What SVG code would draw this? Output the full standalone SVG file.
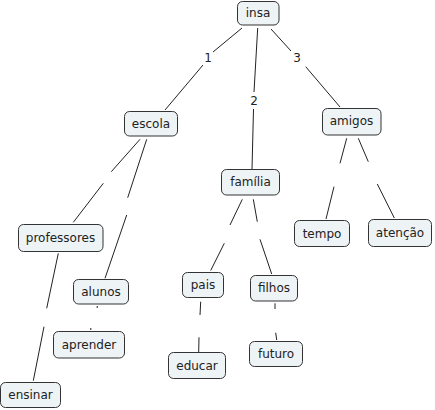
<svg xmlns="http://www.w3.org/2000/svg" width="435" height="410" viewBox="0 0 435 410">
<style>
.n rect{fill:#eef3f5;stroke:#333;stroke-width:1}
text{font-family:"DejaVu Sans",Verdana,sans-serif;font-size:12px;fill:#222;text-anchor:middle;dominant-baseline:central}
#connectors line{stroke:#222;stroke-width:1}
</style>
<rect width="435" height="410" fill="#fff"/>
<g id="connectors">
<line x1="242" y1="28" x2="213" y2="52"/><line x1="203" y1="65" x2="165" y2="110"/>
<text x="208" y="58">1</text>
<line x1="257.7" y1="28" x2="254" y2="92"/><line x1="253.5" y1="109" x2="252" y2="169"/>
<text x="254" y="101">2</text>
<line x1="271" y1="29" x2="291" y2="51"/><line x1="305.7" y1="66.7" x2="340" y2="107"/>
<text x="297" y="58">3</text>
<line x1="140" y1="139.3" x2="111.3" y2="171.7"/><line x1="103.3" y1="183.3" x2="73.3" y2="222.3"/>
<line x1="146.7" y1="139.3" x2="127.7" y2="197.7"/><line x1="126.7" y1="215" x2="105" y2="278.3"/>
<line x1="58.3" y1="253.3" x2="46.7" y2="308.3"/><line x1="44" y1="326.7" x2="33.3" y2="380.7"/>
<line x1="97.3" y1="306" x2="97.1" y2="308"/><line x1="90.9" y1="328" x2="90.7" y2="330"/>
<line x1="242.3" y1="199.3" x2="230" y2="225"/><line x1="224.3" y1="243.3" x2="210.7" y2="270.5"/>
<line x1="253.3" y1="199.3" x2="257.3" y2="221.7"/><line x1="260" y1="239.3" x2="271.7" y2="274"/>
<line x1="200.7" y1="301.7" x2="200" y2="315"/><line x1="199" y1="337.3" x2="198.7" y2="352"/>
<line x1="275" y1="303.3" x2="275" y2="309"/><line x1="275.7" y1="332.7" x2="276.7" y2="340"/>
<line x1="346.7" y1="138.3" x2="340" y2="163.3"/><line x1="334" y1="186.7" x2="326" y2="219"/>
<line x1="358.3" y1="138.3" x2="368.3" y2="161.7"/><line x1="377.3" y1="184" x2="394.3" y2="218"/>
</g>
<g id="insa" class="n"><rect x="237.5" y="1.5" width="41.5" height="23.5" rx="5"/><text x="258" y="13">insa</text></g>
<g id="escola" class="n"><rect x="124.5" y="111.5" width="53" height="24.5" rx="5"/><text x="151" y="124">escola</text></g>
<g id="familia" class="n"><rect x="221.5" y="169.5" width="58" height="25.5" rx="5"/><text x="250.5" y="182">família</text></g>
<g id="amigos" class="n"><rect x="322.5" y="108.5" width="58.5" height="26.5" rx="5"/><text x="351.5" y="121">amigos</text></g>
<g id="professores" class="n"><rect x="18.5" y="224.5" width="84.5" height="27" rx="5"/><text x="60.5" y="238">professores</text></g>
<g id="alunos" class="n"><rect x="73.5" y="279.5" width="55" height="24.5" rx="5"/><text x="101" y="291.5">alunos</text></g>
<g id="aprender" class="n"><rect x="53.5" y="331.5" width="71" height="26.5" rx="5"/><text x="89" y="344.5">aprender</text></g>
<g id="ensinar" class="n"><rect x="0.5" y="382.5" width="60" height="25" rx="5"/><text x="30.5" y="395">ensinar</text></g>
<g id="pais" class="n"><rect x="182.5" y="272.5" width="41" height="25" rx="5"/><text x="203" y="284.5">pais</text></g>
<g id="filhos" class="n"><rect x="250.5" y="275.5" width="47" height="25.5" rx="5"/><text x="274" y="288">filhos</text></g>
<g id="educar" class="n"><rect x="168.5" y="352.5" width="57" height="26" rx="5"/><text x="197" y="365.5">educar</text></g>
<g id="futuro" class="n"><rect x="249.5" y="341.5" width="53" height="25" rx="5"/><text x="276" y="354">futuro</text></g>
<g id="tempo" class="n"><rect x="294.5" y="220.5" width="55" height="26" rx="5"/><text x="322" y="233.5">tempo</text></g>
<g id="atencao" class="n"><rect x="368.5" y="219.5" width="63" height="27" rx="5"/><text x="400" y="232.5">atenção</text></g>
</svg>
